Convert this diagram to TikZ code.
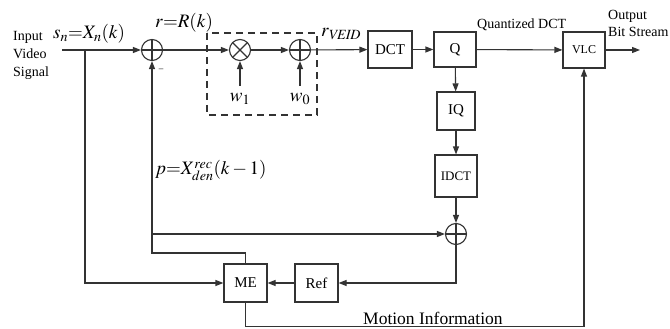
\documentclass[tikz,border=0pt]{standalone}
\usepackage{mathptmx}
\usepackage[no-math]{fontspec}
\setmainfont{Liberation Serif}
\usetikzlibrary{arrows.meta}
\tikzset{
  ln/.style={draw=black!80, line width=1.1pt},
  arr/.style={ln, -{Triangle[length=8pt,width=6pt]}},
  blk/.style={draw=black!80, line width=1.1pt, rectangle, inner sep=0pt, font=\fontsize{15}{17}\selectfont},
  plusc/.style={circle, draw=black!80, line width=1.1pt, minimum size=21pt, inner sep=0pt,
    path picture={\draw[black!80, line width=1.1pt] (path picture bounding box.north) -- (path picture bounding box.south)
      (path picture bounding box.west) -- (path picture bounding box.east);}},
  timesc/.style={circle, draw=black!80, line width=1.1pt, minimum size=21pt, inner sep=0pt,
    path picture={\draw[black!80, line width=1.1pt] (path picture bounding box.north west) -- (path picture bounding box.south east)
      (path picture bounding box.north east) -- (path picture bounding box.south west);}},
  lbl/.style={inner sep=0pt, font=\fontsize{14}{18}\selectfont},
  mlbl/.style={inner sep=0pt, font=\fontsize{19}{21}\selectfont},
}
\begin{document}
\begin{tikzpicture}[x=1pt,y=-1pt]
\useasboundingbox (0,0) rectangle (670,329);
% nodes
\coordinate (in) at (62,50);
\coordinate (br) at (85,50);
\node[plusc] (s1) at (152,50) {};
\node[timesc] (m1) at (240,50) {};
\node[plusc] (s2) at (300,50) {};
\node[blk, minimum width=44pt, minimum height=37pt] (dct) at (390,49.5) {DCT};
\node[blk, minimum width=42pt, minimum height=35pt] (q) at (455,49.5) {Q};
\node[blk, minimum width=42pt, minimum height=36pt, font=\fontsize{12}{14}\selectfont] (vlc) at (584,50) {VLC};
\coordinate (out) at (640,50);
\node[blk, minimum width=38pt, minimum height=38pt] (iq) at (456,111) {IQ};
\node[blk, minimum width=42pt, minimum height=42pt, font=\fontsize{13}{15}\selectfont] (idct) at (456,176) {IDCT};
\node[plusc] (s3) at (456,234) {};
\node[blk, minimum width=43pt, minimum height=38pt] (me) at (245.5,283) {ME};
\node[blk, minimum width=43pt, minimum height=38pt] (ref) at (316.5,283) {Ref};
\coordinate (w1a) at (240,86);
\coordinate (w0a) at (300,86);
\coordinate (jn) at (152,234);
\coordinate (fb) at (152,253);
% dashed box
\draw[black!80, line width=1.1pt, dash pattern=on 7pt off 5pt] (207,33) rectangle (317,115);
% connectors
\draw[arr] (in) -- (s1);
\draw[arr] (s1) -- (m1);
\draw[arr] (m1) -- (s2);
\draw[arr] (s2) -- (dct);
\draw[arr] (dct) -- (q);
\draw[arr] (q) -- (vlc);
\draw[arr] (vlc) -- (out);
\draw[arr] (q) -- (iq);
\draw[arr] (iq) -- (idct);
\draw[arr] (idct) -- (s3);
\draw[arr] (w1a) -- (m1);
\draw[arr] (w0a) -- (s2);
\draw[arr] (me.north) -- (me.north |- fb) -- (fb) -- (s1);
\draw[arr] (jn) -- (s3);
\draw[arr] (s3) |- (ref);
\draw[arr] (ref) -- (me);
\draw[arr] (br) |- (me);
\draw[arr] (me.south) -- ++(0,24) -| (vlc.south);
% labels
\node[lbl, anchor=north west, align=left] (inlbl) at (13,31) {Input\\Video\\Signal};
\node[mlbl, anchor=base west] (snl) at (53,39) {$s_n{=}X_n(k)$};
\node[mlbl, anchor=base west] (rl) at (155,28) {$r{=}R(k)$};
\node[mlbl, anchor=base west] (rv) at (321,37) {$r_{\mathit{VEID}}$};
\node[mlbl, anchor=base west] (pl) at (155,175) {$p{=}X^{rec}_{den}(k-1)$};
\node[mlbl, anchor=base] (w1l) at (240,102) {$w_1$};
\node[mlbl, anchor=base] (w0l) at (300,102) {$w_0$};
\node[lbl, anchor=base west, font=\fontsize{14}{18}\selectfont] (qd) at (477,29) {Quantized DCT};
\node[lbl, anchor=base west] (ol) at (608,20) {Output};
\node[lbl, anchor=base west] (bsl) at (608,37) {Bit Stream};
\node[lbl, anchor=base west, font=\fontsize{17.5}{20}\selectfont] (mi) at (363,324) {Motion Information};
\node[inner sep=0pt, font=\fontsize{9}{9}\selectfont] (minus) at (161,70) {--};
\end{tikzpicture}
\end{document}
